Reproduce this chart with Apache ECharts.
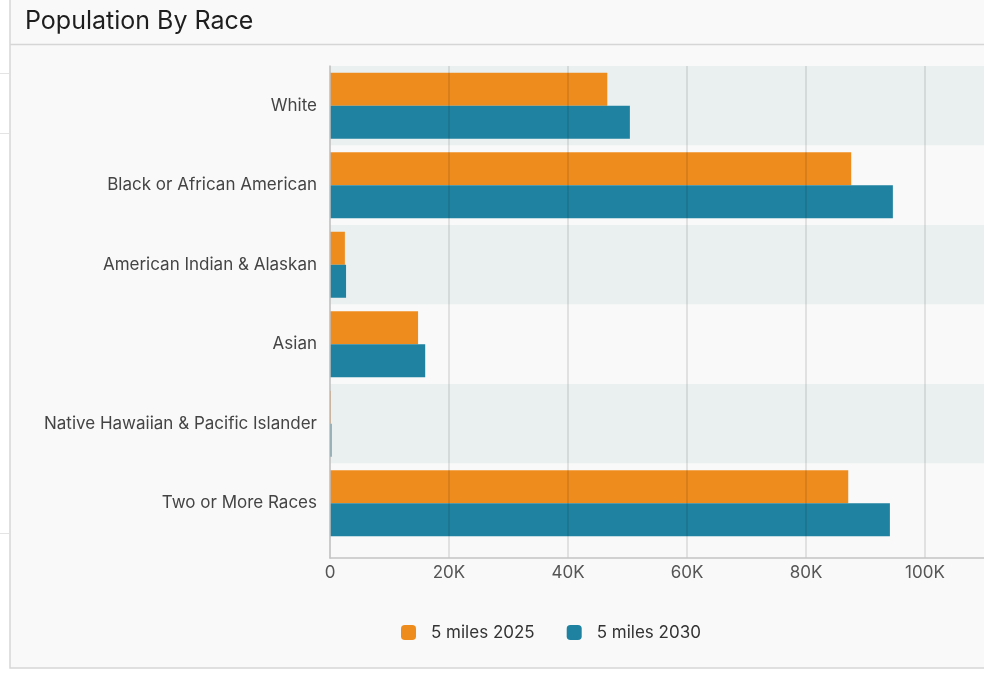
<!DOCTYPE html>
<html>
<head>
<meta charset="utf-8">
<script src="https://cdn.jsdelivr.net/npm/echarts@6/dist/echarts.min.js"></script>
<style>
html,body{margin:0;padding:0;background:#fff;overflow:hidden;}
#main{width:1100px;height:673px;}
</style>
</head>
<body>
<div id="main"></div>
<script>
var categories = ['White', 'Black or African American', 'American Indian & Alaskan', 'Asian', 'Native Hawaiian & Pacific Islander', 'Two or More Races'];
var seriesNames = ['5 miles 2025', '5 miles 2030'];
var values2025 = [46600, 87600, 2500, 14800, 150, 87100];
var values2030 = [50400, 94600, 2700, 16000, 250, 94100];
var xMax = 120000;
var xStep = 20000;

// the panel is wider than the window, so the chart is drawn 1100px wide and cut at 984
// grid 0 = value axis frame (goes a bit lower than the bands), grid 1 = bands + bars
var myChart = echarts.init(document.getElementById('main'));
var option = {
	backgroundColor: '#ffffff',
	textStyle: {fontFamily: 'Inter'},
	title: {
		text: 'Population By Race',
		left: 20,
		top: 4,
		textStyle: {fontSize: 25, fontWeight: 'normal', color: '#1e1e1e', fontFamily: 'Inter'}
	},
	graphic: [
		// panel background + borders
		{type: 'rect', z: -10, shape: {x: 10, y: -2, width: 1200, height: 670}, style: {fill: '#f9f9f9', stroke: '#d6d6d6', lineWidth: 1.5}},
		{type: 'line', z: -9, shape: {x1: 10, y1: 44.5, x2: 1100, y2: 44.5}, style: {stroke: '#d6d6d6', lineWidth: 1.5}},
		{type: 'line', z: -9, shape: {x1: 0, y1: 73.5, x2: 9, y2: 73.5}, style: {stroke: '#e4e4e4', lineWidth: 1}},
		{type: 'line', z: -9, shape: {x1: 0, y1: 133.5, x2: 9, y2: 133.5}, style: {stroke: '#e4e4e4', lineWidth: 1}},
		{type: 'line', z: -9, shape: {x1: 0, y1: 533.5, x2: 9, y2: 533.5}, style: {stroke: '#e4e4e4', lineWidth: 1}}
	],
	legend: {
		data: seriesNames,
		left: 396,
		top: 619,
		icon: 'roundRect',
		itemWidth: 15,
		itemHeight: 15,
		itemGap: 32,
		textStyle: {fontSize: 17, color: '#333', fontFamily: 'Inter', padding: [0, 0, 0, 10]}
	},
	grid: [
		{left: 330, right: 56, top: 66, bottom: 115, containLabel: false},
		{left: 330, right: 56, top: 66, bottom: 130, containLabel: false}
	],
	xAxis: [
		{
			type: 'value',
			gridIndex: 0,
			min: 0,
			max: xMax,
			interval: xStep,
			z: 5,
			axisLine: {show: true, lineStyle: {color: '#c4c4c4', width: 1.5}},
			axisTick: {show: false},
			axisLabel: {
				color: '#555',
				fontSize: 17,
				margin: 6,
				formatter: function (v) { return v === 0 ? '0' : (v / 1000) + 'K'; }
			},
			splitLine: {show: true, lineStyle: {color: 'rgba(0,0,0,0.13)', width: 1.5}}
		},
		{
			type: 'value',
			gridIndex: 1,
			min: 0,
			max: xMax,
			interval: xStep,
			show: false,
			splitLine: {show: false}
		}
	],
	yAxis: [
		{
			type: 'value',
			gridIndex: 0,
			z: 5,
			axisLine: {show: true, onZero: false, lineStyle: {color: '#c4c4c4', width: 1.5}},
			axisTick: {show: false},
			axisLabel: {show: false},
			splitLine: {show: false}
		},
		{
			type: 'category',
			gridIndex: 1,
			data: categories,
			inverse: true,
			axisLine: {show: false},
			axisTick: {show: false},
			axisLabel: {color: '#444', fontSize: 17, margin: 13},
			splitArea: {show: true, areaStyle: {color: ['#eaf0f0', '#f9f9f9']}}
		}
	],
	series: [
		{
			name: seriesNames[0],
			type: 'bar',
			xAxisIndex: 1,
			yAxisIndex: 1,
			data: values2025,
			barWidth: 33,
			barGap: '0%',
			itemStyle: {color: '#ef8c1e'}
		},
		{
			name: seriesNames[1],
			type: 'bar',
			xAxisIndex: 1,
			yAxisIndex: 1,
			data: values2030,
			barWidth: 33,
			barGap: '0%',
			itemStyle: {color: '#1f82a0'}
		}
	]
};
myChart.setOption(option);
</script>
</body>
</html>
